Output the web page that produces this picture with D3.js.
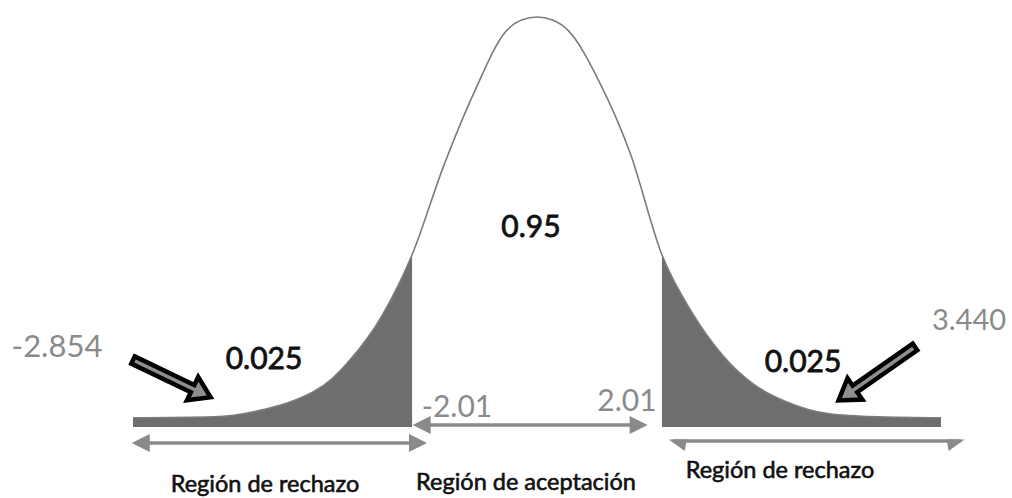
<!DOCTYPE html>
<html>
<head>
<meta charset="utf-8">
<script src="https://cdn.jsdelivr.net/npm/d3@7"></script>
<style>
  body { margin: 0; background: #fff; }
  text { font-family: Lato, "Open Sans", sans-serif; }
</style>
</head>
<body>
<div id="chart"></div>
<script>
const width = 1012;
const height = 498;

// valores de t y altura de la curva
const tValues = [-6.5, -5.2, -4.4, -3.9, -3.3, -3.0, -2.5, -2.01, -1.5, -1.0, -0.5, -0.25, 0, 0.25, 0.5, 1.0, 1.5, 2.01, 2.5, 3.0, 3.5, 4.0, 4.7, 5.5, 6.5];
const density = [0.009, 0.010, 0.017, 0.026, 0.047, 0.066, 0.108, 0.168, 0.255, 0.328, 0.386, 0.397, 0.400, 0.397, 0.387, 0.337, 0.267, 0.168, 0.111, 0.069, 0.041, 0.025, 0.013, 0.010, 0.009];

const criticalValues = [-2.01, 2.01];
const criticalLabels = ["-2.01", "2.01"];
const areaLabels = ["0.025", "0.95", "0.025"];
const observedLabels = ["-2.854", "3.440"];
const regionLabels = ["Región de rechazo", "Región de aceptación", "Región de rechazo"];
const regionSpans = [[-6.52, -1.77], [-2.0, 1.78], [2.12, 6.88]];

const points = tValues.map((t, i) => ({ t: t, d: density[i] }));

const svg = d3.select("#chart").append("svg")
  .attr("width", width)
  .attr("height", height)
  .style("display", "block");

const x = d3.scaleLinear().domain([-6.5, 6.5]).range([133, 941]);
const y = d3.scaleLinear().domain([0, 0.4]).range([427, 17]);

const gray = "#8a8a8a";

// zonas sombreadas (colas), recortadas en los valores críticos
const defs = svg.append("defs");
defs.append("clipPath").attr("id", "tails")
  .selectAll("rect")
  .data([[-6.6, criticalValues[0]], [criticalValues[1], 6.6]])
  .join("rect")
    .attr("x", d => x(d[0]))
    .attr("width", d => x(d[1]) - x(d[0]))
    .attr("y", 0)
    .attr("height", height);

const area = d3.area()
  .x(d => x(d.t))
  .y0(y(0))
  .y1(d => y(d.d))
  .curve(d3.curveMonotoneX);

svg.append("path")
  .datum(points)
  .attr("d", area)
  .attr("fill", "#6e6e6e")
  .attr("clip-path", "url(#tails)");

svg.append("path")
  .datum(points)
  .attr("d", d3.line().x(d => x(d.t)).y(d => y(d.d)).curve(d3.curveMonotoneX))
  .attr("fill", "none")
  .attr("stroke", "#7c7c7c")
  .attr("stroke-width", 1.6);

// flechas grises de las regiones
function regionArrow(x1, x2, yy, halfHead) {
  const g = svg.append("g").attr("fill", gray);
  g.append("line")
    .attr("x1", x1 + 4).attr("x2", x2 - 4)
    .attr("y1", yy).attr("y2", yy)
    .attr("stroke", gray).attr("stroke-width", 3.5);
  const hl = 18, hw = 9;
  if (halfHead) {
    g.append("path").attr("d", `M${x1},${yy - 1.5} L${x1 + hl},${yy - 1.5} L${x1 + hl - 2},${yy + hw + 1} Z`);
    g.append("path").attr("d", `M${x2},${yy - 1.5} L${x2 - hl},${yy - 1.5} L${x2 - hl + 2},${yy + hw + 1} Z`);
  } else {
    g.append("path").attr("d", `M${x1},${yy} L${x1 + hl},${yy - hw} L${x1 + hl},${yy + hw} Z`);
    g.append("path").attr("d", `M${x2},${yy} L${x2 - hl},${yy - hw} L${x2 - hl},${yy + hw} Z`);
  }
}
regionArrow(x(regionSpans[0][0]), x(regionSpans[0][1]), 443, false);
regionArrow(x(regionSpans[1][0]), x(regionSpans[1][1]), 425, false);
regionArrow(x(regionSpans[2][0]), x(regionSpans[2][1]), 441, true);

// flechas negras hacia las colas
function blockArrow(x1, y1, x2, y2) {
  const L = Math.hypot(x2 - x1, y2 - y1);
  const ang = Math.atan2(y2 - y1, x2 - x1) * 180 / Math.PI;
  const s = 4, h = 13, hl = 20;
  svg.append("path")
    .attr("d", `M0,${-s} L${L - hl},${-s} L${L - hl},${-h} L${L},0 L${L - hl},${h} L${L - hl},${s} L0,${s} Z`)
    .attr("transform", `translate(${x1},${y1}) rotate(${ang})`)
    .attr("fill", "#8e8e8e")
    .attr("stroke", "#000")
    .attr("stroke-width", 4.5)
    .attr("stroke-linejoin", "miter");
}
blockArrow(133, 360, x(-5.3) + 3, y(0.028) - 1);
blockArrow(915, 347, x(4.9) - 3, y(0.025) - 1);

// textos (trazo fino para imitar el seminegrita)
function label(txt, cx, base, size, color, thick) {
  svg.append("text")
    .attr("x", cx).attr("y", base)
    .attr("text-anchor", "middle")
    .attr("font-size", size)
    .attr("fill", color)
    .attr("stroke", thick ? color : "none")
    .attr("stroke-width", thick || 0)
    .text(txt);
}
label(observedLabels[0], 57, 357, 31, gray);
label(observedLabels[1], 969, 330, 29, gray);
label(areaLabels[0], 264, 369, 30, "#111", 0.8);
label(areaLabels[1], 531, 237, 30, "#111", 0.8);
label(areaLabels[2], 803, 372, 30, "#111", 0.8);
label(criticalLabels[0], 457, 417, 30, gray);
label(criticalLabels[1], 627, 411, 30, gray);
label(regionLabels[0], 265, 492, 23.5, "#111", 0.6);
label(regionLabels[1], 526, 490, 23.5, "#111", 0.6);
label(regionLabels[2], 780, 478, 23.5, "#111", 0.6);
</script>
</body>
</html>
